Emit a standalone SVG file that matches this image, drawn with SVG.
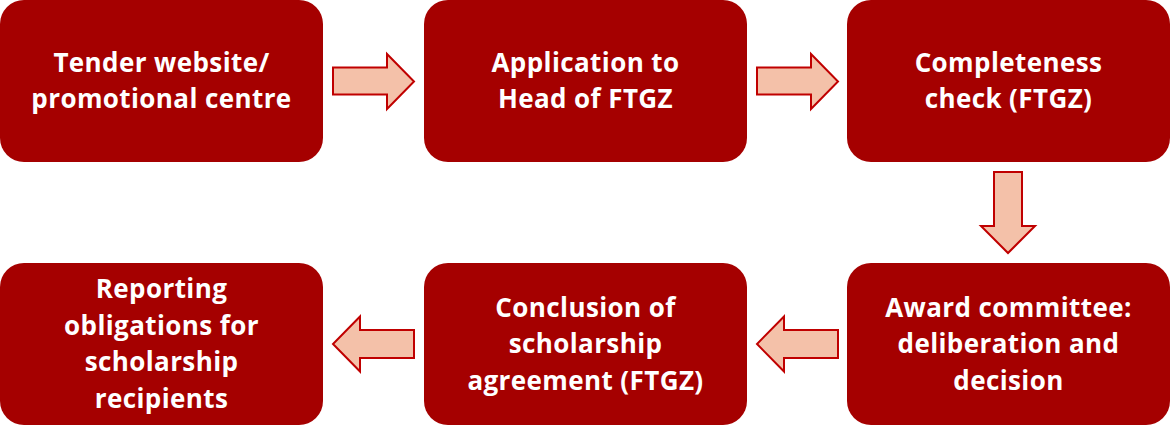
<svg xmlns="http://www.w3.org/2000/svg" width="1170" height="435" viewBox="0 0 1170 435">
<style>
.box{fill:#A50000;}
.t{font-family:"Open Sans","Liberation Sans",sans-serif;font-weight:bold;font-size:26px;letter-spacing:0.4px;fill:#FFFFFF;text-anchor:middle;}
.arr{fill:#F4C1A9;stroke:#C00000;stroke-width:2;stroke-linejoin:miter;}
</style>
<rect width="1170" height="435" fill="#FFFFFF"/>
<g id="n1"><rect class="box" x="0" y="0" width="323" height="162" rx="24"/>
<text class="t" x="161.5" y="72">Tender website/</text>
<text class="t" x="161.5" y="108">promotional centre</text></g>
<g id="n2"><rect class="box" x="424" y="0" width="323" height="162" rx="24"/>
<text class="t" x="585.5" y="72">Application to</text>
<text class="t" x="585.5" y="108">Head of FTGZ</text></g>
<g id="n3"><rect class="box" x="847" y="0" width="323" height="162" rx="24"/>
<text class="t" x="1008.5" y="72">Completeness</text>
<text class="t" x="1008.5" y="108">check (FTGZ)</text></g>
<g id="n4"><rect class="box" x="847" y="263" width="323" height="162" rx="24"/>
<text class="t" x="1008.5" y="316.5">Award committee:</text>
<text class="t" x="1008.5" y="353">deliberation and</text>
<text class="t" x="1008.5" y="389.5">decision</text></g>
<g id="n5"><rect class="box" x="424" y="263" width="323" height="162" rx="24"/>
<text class="t" x="585.5" y="316.5">Conclusion of</text>
<text class="t" x="585.5" y="353">scholarship</text>
<text class="t" x="585.5" y="389.5">agreement (FTGZ)</text></g>
<g id="n6"><rect class="box" x="0" y="263" width="323" height="162" rx="24"/>
<text class="t" x="161.5" y="298">Reporting</text>
<text class="t" x="161.5" y="334.5">obligations for</text>
<text class="t" x="161.5" y="371">scholarship</text>
<text class="t" x="161.5" y="407.5">recipients</text></g>
<g id="connectors">
<polygon class="arr" points="333,67.5 387,67.5 387,54 414,81.5 387,109 387,94.5 333,94.5"/>
<polygon class="arr" points="757,67.5 811,67.5 811,54 838,81.5 811,109 811,94.5 757,94.5"/>
<polygon class="arr" points="994,172 1022,172 1022,226 1035,226 1008,253 981,226 994,226"/>
<polygon class="arr" points="838,358 784,358 784,371.5 757,344 784,316.5 784,330 838,330"/>
<polygon class="arr" points="414,358 360,358 360,371.5 333,344 360,316.5 360,330 414,330"/>
</g>
</svg>
